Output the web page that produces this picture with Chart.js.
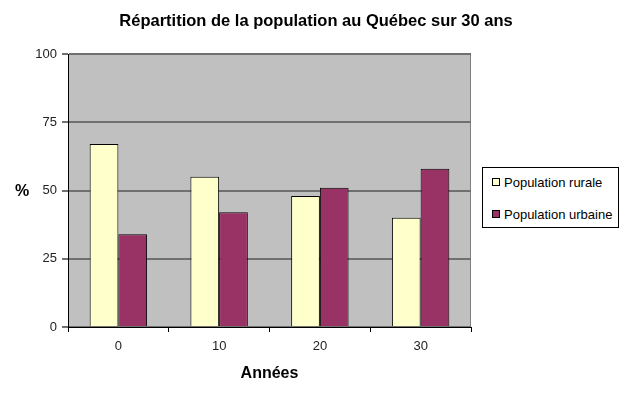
<!DOCTYPE html>
<html>
<head>
<meta charset="utf-8">
<script src="https://cdn.jsdelivr.net/npm/chart.js@4.4.0/dist/chart.umd.min.js"></script>
<style>
  html, body { margin: 0; padding: 0; background: #fff; }
  #wrap { position: relative; width: 630px; height: 400px; }
  #legend {
    position: absolute; left: 482px; top: 167px; width: 135px; height: 59px;
    border: 1px solid #000; background: #fff;
    font: 13px "Liberation Sans", Arial, sans-serif; color: #000;
  }
  #legend .item { position: absolute; left: 9px; height: 16px; line-height: 16px; white-space: nowrap; }
  #legend .box { display: inline-block; width: 6px; height: 6px; border: 1px solid #000; margin-right: 4px; vertical-align: 1px; }
</style>
</head>
<body>
<div id="wrap">
  <canvas id="chart" width="630" height="400"></canvas>
  <div id="legend"></div>
</div>
<script>
const annees = ['0', '10', '20', '30'];
const rurale = [67, 55, 48, 40];
const urbaine = [34, 42, 51, 58];
const seriesNames = ['Population rurale', 'Population urbaine'];
const seriesColors = ['#FFFFCC', '#993366'];
const chartTitle = 'Répartition de la population au Québec sur 30 ans';

const FONT = '"Liberation Sans", Arial, sans-serif';

// gray plot background + right border, the title over the whole width and the horizontal "%"
const plotDecor = {
  id: 'plotDecor',
  beforeDraw(chart) {
    const { ctx, chartArea: a } = chart;
    ctx.save();
    ctx.fillStyle = '#C0C0C0';
    ctx.fillRect(a.left, a.top, a.right - a.left, a.bottom - a.top);
    ctx.strokeStyle = '#808080';
    ctx.lineWidth = 1;
    ctx.beginPath();
    ctx.moveTo(a.right - 0.5, a.top);
    ctx.lineTo(a.right - 0.5, a.bottom);
    ctx.stroke();
    ctx.restore();
  },
  afterDraw(chart) {
    const { ctx } = chart;
    ctx.save();
    ctx.fillStyle = '#000';
    ctx.textAlign = 'center';
    ctx.textBaseline = 'middle';
    ctx.font = 'bold 16.5px ' + FONT;
    ctx.fillText(chartTitle, 316, 21);
    ctx.font = 'bold 16px ' + FONT;
    ctx.fillText('%', 22, 192);
    ctx.restore();
  }
};

const chart = new Chart(document.getElementById('chart'), {
  type: 'bar',
  data: {
    labels: annees,
    datasets: [{
      label: seriesNames[0],
      data: rurale,
      backgroundColor: seriesColors[0],
      borderColor: '#000',
      borderWidth: 1
    }, {
      label: seriesNames[1],
      data: urbaine,
      backgroundColor: seriesColors[1],
      borderColor: '#000',
      borderWidth: 1
    }]
  },
  options: {
    responsive: false,
    animation: false,
    categoryPercentage: 0.57,
    barPercentage: 1,
    layout: { padding: { left: 0, right: 159, top: 54, bottom: 0 } },
    plugins: {
      legend: { display: false },
      tooltip: { enabled: false },
      title: { display: false }
    },
    scales: {
      x: {
        afterFit(scale) { scale.height = 73; },
        grid: {
          offset: true,
          drawOnChartArea: false,
          drawTicks: true,
          tickLength: 5,
          color: '#000'
        },
        border: { color: '#000', width: 1 },
        ticks: { color: '#222', font: { family: FONT, size: 13 }, padding: 7 },
        title: {
          display: true,
          text: 'Années',
          color: '#000',
          font: { family: FONT, size: 16, weight: 'bold' },
          padding: { top: 0, bottom: 17 }
        }
      },
      y: {
        min: 0,
        max: 100,
        afterFit(scale) { scale.width = 68; },
        ticks: { stepSize: 25, color: '#222', font: { family: FONT, size: 13 }, padding: 5 },
        grid: {
          color: '#707070',
          lineWidth: 2,
          tickLength: 6
        },
        border: { color: '#000', width: 1 }
      }
    }
  },
  plugins: [plotDecor]
});

// legend built from the chart's datasets
const legend = document.getElementById('legend');
chart.data.datasets.forEach((ds, i) => {
  const item = document.createElement('div');
  item.className = 'item';
  item.style.top = (7 + i * 32) + 'px';
  const box = document.createElement('span');
  box.className = 'box';
  box.style.background = ds.backgroundColor;
  item.appendChild(box);
  item.appendChild(document.createTextNode(ds.label));
  legend.appendChild(item);
});
</script>
</body>
</html>
